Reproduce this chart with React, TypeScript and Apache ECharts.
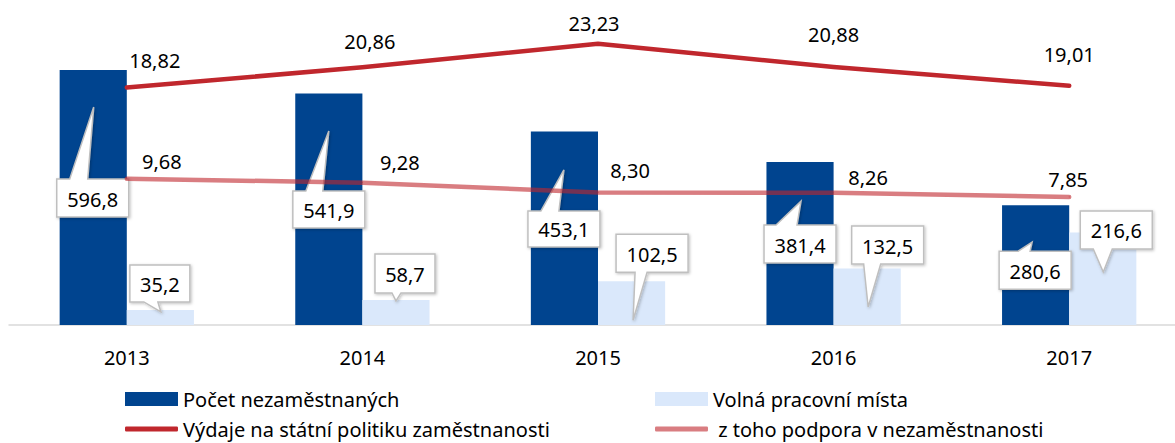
import React, { useEffect, useRef } from "react";
import * as echarts from "echarts";

const categories = ["2013", "2014", "2015", "2016", "2017"];
const unemployed = [596.8, 541.9, 453.1, 381.4, 280.6];
const vacancies = [35.2, 58.7, 102.5, 132.5, 216.6];
const expenditure = [18.82, 20.86, 23.23, 20.88, 19.01];
const benefits = [9.68, 9.28, 8.3, 8.26, 7.85];

const seriesNames = [
  "Počet nezaměstnaných",
  "Volná pracovní místa",
  "Výdaje na státní politiku zaměstnanosti",
  " z toho podpora v nezaměstnanosti",
];

const FONT = "Noto Sans";
const BAR_CAT_GAP = 0.43;

// label layout (offsets relative to anchor points)
const expLabelOffsets = [[28, -27], [7.5, -26], [-4, -20], [0, -33], [0, -31]];
const benLabelOffsets = [[35, -17.5], [37.5, -20.5], [32, -22], [34.5, -15], [-1, -17]];

type Callout = { bx: number; by: number; w: number; h: number; tx: number; ty: number; bl: number; br: number };
const darkCallouts: Callout[] = [
  { bx: -0.5, by: 128, w: 72, h: 38, tx: 0.5, ty: 37, bl: -23, br: -5 },
  { bx: 0, by: 116, w: 72, h: 37, tx: 0, ty: 37.5, bl: -23, br: -6 },
  { bx: -0.5, by: 97.5, w: 72, h: 36, tx: -0.5, ty: 38.5, bl: -23, br: -5 },
  { bx: 0, by: 82, w: 72, h: 38, tx: 1, ty: 39, bl: -24, br: -3 },
  { bx: -0.5, by: 65, w: 72, h: 38, tx: -3.5, ty: 37, bl: -17, br: -5 },
];
const lightCallouts: Callout[] = [
  { bx: -0.5, by: -26.5, w: 60, h: 37, tx: 0.5, ty: 2, bl: -16, br: -2 },
  { bx: 9, by: -26.5, w: 60, h: 39, tx: 0, ty: 1, bl: -13, br: -4 },
  { bx: 20.5, by: -28, w: 72, h: 38, tx: 1.5, ty: 39, bl: -17, br: -5 },
  { bx: 20.5, by: -23.4, w: 72, h: 38, tx: 1, ty: 38.6, bl: -24, br: -7 },
  { bx: 13.5, by: -2.5, w: 72, h: 38, tx: 0.5, ty: 39.5, bl: -23, br: -4 },
];

const fmt = (v: number, d: number) => v.toFixed(d).replace(".", ",");

function makeRenderer(layouts: Callout[], side: number) {
  return (params: any, api: any) => {
    const i = params.dataIndex;
    const v = api.value(1);
    const pt = api.coord([api.value(0), v]);
    const catW = api.size([1, 0])[0];
    const barW = (catW * (1 - BAR_CAT_GAP)) / 2;
    const ax = pt[0] + (side * barW) / 2;
    const ay = pt[1];
    const L = layouts[i];
    const cx = ax + L.bx;
    const cy = ay + L.by;
    const x0 = cx - L.w / 2, x1 = cx + L.w / 2, y0 = cy - L.h / 2, y1 = cy + L.h / 2;
    const tx = ax + L.tx, ty = ay + L.ty;
    let pts: number[][];
    if (ty < y0) {
      pts = [[x0, y0], [cx + L.bl, y0], [tx, ty], [cx + L.br, y0], [x1, y0], [x1, y1], [x0, y1]];
    } else {
      pts = [[x0, y0], [x1, y0], [x1, y1], [cx + L.br, y1], [tx, ty], [cx + L.bl, y1], [x0, y1]];
    }
    return {
      type: "group",
      children: [
        {
          type: "polygon",
          shape: { points: pts },
          style: {
            fill: "#ffffff",
            stroke: "#bfbfbf",
            lineWidth: 1.5,
            shadowBlur: 3,
            shadowOffsetX: 1,
            shadowOffsetY: 1,
            shadowColor: "rgba(0,0,0,0.25)",
          },
        },
        {
          type: "text",
          x: cx,
          y: cy + 1,
          style: {
            text: fmt(v, 1),
            align: "center",
            verticalAlign: "middle",
            fontSize: 20,
            fontFamily: FONT,
            fill: "#000000",
          },
        },
      ],
    };
  };
}

export default function App() {
  const ref = useRef<HTMLDivElement>(null);
  useEffect(() => {
    if (!ref.current) return;
    const chart = echarts.init(ref.current, null, { renderer: "svg" });
    const legendBase = {
      selectedMode: false,
      itemWidth: 53,
      itemHeight: 14,
      itemGap: 5,
      textStyle: { fontSize: 20, fontFamily: FONT, color: "#000" },
    };
    chart.setOption({
      animation: false,
      backgroundColor: "#ffffff",
      grid: { left: 9, right: 0, top: 26, bottom: 118, containLabel: false },
      legend: [
        { ...legendBase, data: [seriesNames[0]], left: 120, top: 384, icon: "rect" },
        { ...legendBase, data: [seriesNames[1]], left: 650, top: 384, icon: "rect" },
        { ...legendBase, data: [seriesNames[2]], left: 120, top: 414, icon: "roundRect", itemHeight: 5 },
        { ...legendBase, data: [seriesNames[3]], left: 650, top: 414, icon: "roundRect", itemHeight: 5 },
      ],
      xAxis: {
        type: "category",
        data: categories,
        axisLine: { show: true, lineStyle: { color: "#d9d9d9", width: 1.5 } },
        axisTick: { show: false },
        axisLabel: { fontSize: 20, fontFamily: FONT, color: "#000", margin: 22 },
      },
      yAxis: [
        { type: "value", min: 0, max: 700, show: false, splitLine: { show: false } },
        { type: "value", min: -5, max: 25, show: false, splitLine: { show: false } },
      ],
      series: [
        {
          name: seriesNames[0],
          type: "bar",
          data: unemployed,
          barGap: "0%",
          barCategoryGap: "43%",
          itemStyle: { color: "#00448F" },
          z: 2,
        },
        {
          name: seriesNames[1],
          type: "bar",
          data: vacancies,
          barGap: "0%",
          barCategoryGap: "43%",
          itemStyle: { color: "#DAE8FB" },
          z: 2,
        },
        {
          name: "calloutsDark",
          type: "custom",
          data: unemployed.map((v, i) => [i, v]),
          renderItem: makeRenderer(darkCallouts, -1),
          z: 3,
          silent: true,
        },
        {
          name: "calloutsLight",
          type: "custom",
          data: vacancies.map((v, i) => [i, v]),
          renderItem: makeRenderer(lightCallouts, 1),
          z: 3,
          silent: true,
        },
        {
          name: seriesNames[2],
          type: "line",
          yAxisIndex: 1,
          data: expenditure.map((v, i) => ({ value: v, label: { offset: expLabelOffsets[i] } })),
          symbol: "circle",
          symbolSize: 1,
          showSymbol: true,
          color: "#C0272D",
          lineStyle: { color: "#C0272D", width: 4.5, cap: "round", join: "round" },
          label: {
            show: true,
            position: "inside",
            fontSize: 20,
            fontFamily: FONT,
            color: "#000",
            formatter: (p: any) => fmt(p.value, 2),
          },
          z: 5,
        },
        {
          name: seriesNames[3],
          type: "line",
          yAxisIndex: 1,
          data: benefits.map((v, i) => ({ value: v, label: { offset: benLabelOffsets[i] } })),
          symbol: "circle",
          symbolSize: 1,
          showSymbol: true,
          color: "rgba(192,39,45,0.6)",
          lineStyle: { color: "rgba(192,39,45,0.6)", width: 4.5, cap: "round", join: "round" },
          label: {
            show: true,
            position: "inside",
            fontSize: 20,
            fontFamily: FONT,
            color: "#000",
            formatter: (p: any) => fmt(p.value, 2),
          },
          z: 5,
        },
      ],
    });
    return () => chart.dispose();
  }, []);
  return (
    <div
      style={{ position: "fixed", left: 0, top: 0, width: 1175, height: 443, overflow: "hidden", background: "#fff" }}
    >
      <div ref={ref} style={{ position: "absolute", left: 0, top: 0, width: 1187, height: 443 }} />
    </div>
  );
}
